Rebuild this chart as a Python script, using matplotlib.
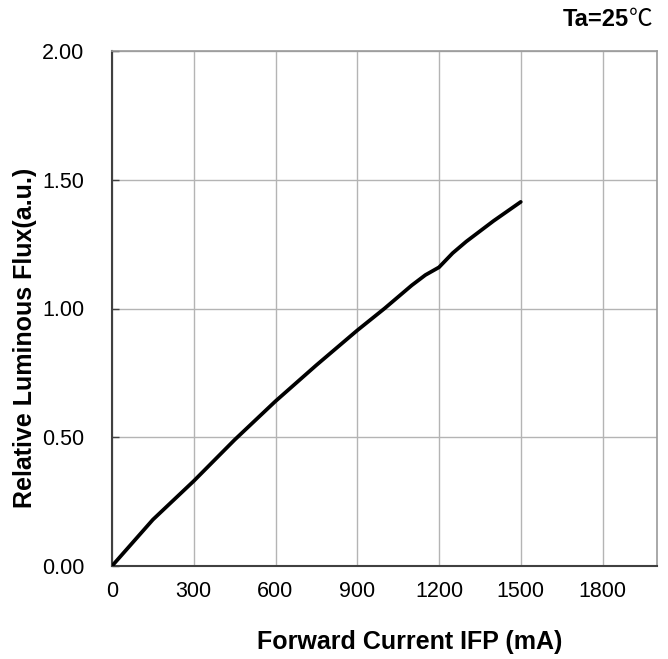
import matplotlib
matplotlib.use("Agg")
import matplotlib.pyplot as plt

current_ma = [0, 150, 300, 450, 600, 750, 900, 1000, 1050, 1100, 1150, 1200, 1250, 1300, 1400, 1500]
rel_flux = [0.0, 0.18, 0.33, 0.49, 0.64, 0.78, 0.915, 1.0, 1.045, 1.09, 1.13, 1.16, 1.215, 1.26, 1.34, 1.414]
x_ticks = [0, 300, 600, 900, 1200, 1500, 1800]
y_ticks = [0.0, 0.5, 1.0, 1.5, 2.0]

plt.rcParams['font.family'] = ['Liberation Sans', 'DejaVu Sans']

W, H = 668, 659
fig = plt.figure(figsize=(W/100, H/100), dpi=100)
ax = fig.add_axes([112/W, 1-566/H, (657-112)/W, (566-51)/H])

ax.plot(current_ma, rel_flux, color='black', lw=2.7, solid_capstyle='round', zorder=3)

ax.set_xlim(0, 2000)
ax.set_ylim(0, 2.0)
ax.set_xticks(x_ticks)
ax.set_xticklabels([str(v) for v in x_ticks])
ax.set_yticks(y_ticks)
ax.set_yticklabels([f"{v:.2f}" for v in y_ticks])
ax.grid(True, color='#b4b4b4', lw=1.0)
ax.set_axisbelow(True)

ax.tick_params(axis='y', direction='in', length=5, width=1, color='#404040', pad=20, labelsize=15.5)
ax.tick_params(axis='x', length=0, pad=11, labelsize=15.5)

for s in ['left', 'bottom']:
    ax.spines[s].set_color('#404040')
    ax.spines[s].set_linewidth(1.5)
for s in ['top', 'right']:
    ax.spines[s].set_color('#9a9a9a')
    ax.spines[s].set_linewidth(1.2)

fig.text(410/W, 1-642/H, 'Forward Current IFP (mA)', fontsize=18, fontweight='bold',
         ha='center', va='center')
fig.text(25/W, 1-338/H, 'Relative Luminous Flux(a.u.)', fontsize=18, fontweight='bold',
         ha='center', va='center', rotation=90)

fig.text(629/W, 1-20/H, 'Ta=25', fontsize=17, fontweight='bold', ha='right', va='center')
fig.text(629/W, 1-20/H, '℃', fontsize=17, ha='left', va='center',
         family=['Noto Sans CJK SC', 'DejaVu Sans'])

fig.savefig('out.png', dpi=100)
